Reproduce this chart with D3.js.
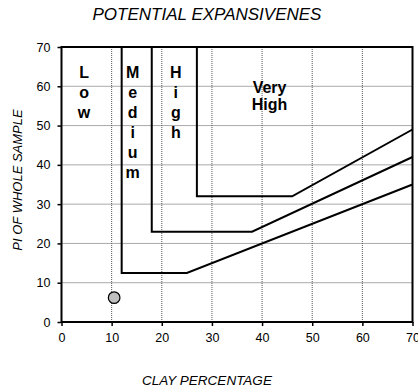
<!DOCTYPE html>
<html>
<head>
<meta charset="utf-8">
<script src="https://d3js.org/d3.v7.min.js"></script>
<style>
  html, body { margin: 0; background: #fff; }
  text { font-family: "Liberation Sans", Arial, sans-serif; }
</style>
</head>
<body>
<svg id="svg"></svg>
<script>
const xTicks = [0, 10, 20, 30, 40, 50, 60, 70];
const yTicks = [0, 10, 20, 30, 40, 50, 60, 70];

// boundary lines (clay %, PI)
const mediumLine = [[12, 70], [12, 12.5], [25, 12.5], [70, 35]];
const highLine = [[18, 70], [18, 23], [38, 23], [70, 42]];
const veryHighLine = [[27, 70], [27, 32], [46, 32], [70, 49]];
const boundaries = [mediumLine, highLine, veryHighLine];

const samplePoints = [[10.5, 6.2]];

// zone labels
const zoneLabels = [
  {x: 4.5, y: 62.2, text: "Low", stacked: true},
  {x: 14.2, y: 62.2, text: "Medium", stacked: true},
  {x: 22.8, y: 62.2, text: "High", stacked: true},
  {x: 41.5, y: 58.2, text: "Very", stacked: false},
  {x: 41.5, y: 53.9, text: "High", stacked: false}
];

const W = 418, H = 392;
const m = {top: 47, left: 61.5, right: 5.5, bottom: 70};
const w = W - m.left - m.right, h = H - m.top - m.bottom;

const svg = d3.select("#svg").attr("width", W).attr("height", H);

const x = d3.scaleLinear().domain([0, 70]).range([m.left, m.left + w]);
const y = d3.scaleLinear().domain([0, 70]).range([m.top + h, m.top]);

// grid
svg.append("g")
  .selectAll("line")
  .data(xTicks.slice(1, -1))
  .enter().append("line")
  .attr("x1", d => x(d)).attr("x2", d => x(d))
  .attr("y1", y(0)).attr("y2", y(70))
  .attr("stroke", "#555").attr("stroke-width", 1)
  .attr("stroke-dasharray", "1,1");

svg.append("g")
  .selectAll("line")
  .data(yTicks.slice(1, -1))
  .enter().append("line")
  .attr("x1", x(0)).attr("x2", x(70))
  .attr("y1", d => y(d)).attr("y2", d => y(d))
  .attr("stroke", "#555").attr("stroke-width", 1)
  .attr("stroke-dasharray", "1,1");

// axes
const xAxis = svg.append("g")
  .attr("transform", `translate(0,${y(0)})`)
  .call(d3.axisBottom(x).tickValues(xTicks).tickSize(4).tickPadding(7));
const yAxis = svg.append("g")
  .attr("transform", `translate(${x(0)},0)`)
  .call(d3.axisLeft(y).tickValues(yTicks).tickSize(4).tickPadding(7));
[xAxis, yAxis].forEach(a => {
  a.select(".domain").remove();
  a.selectAll("line").attr("stroke", "#000").attr("stroke-width", 1.5);
  a.selectAll("text").attr("font-size", 12.5).attr("fill", "#000")
    .attr("font-family", "Liberation Sans, Arial, sans-serif");
});

// frame
svg.append("rect")
  .attr("x", x(0)).attr("y", y(70))
  .attr("width", x(70) - x(0)).attr("height", y(0) - y(70))
  .attr("fill", "none").attr("stroke", "#000").attr("stroke-width", 2);

// boundary lines
const line = d3.line().x(d => x(d[0])).y(d => y(d[1]));
svg.append("g")
  .selectAll("path")
  .data(boundaries)
  .enter().append("path")
  .attr("d", line)
  .attr("fill", "none").attr("stroke", "#000").attr("stroke-width", 2);

// sample point
svg.append("g")
  .selectAll("circle")
  .data(samplePoints)
  .enter().append("circle")
  .attr("cx", d => x(d[0])).attr("cy", d => y(d[1]))
  .attr("r", 5.8)
  .attr("fill", "#bfbfbf").attr("stroke", "#000").attr("stroke-width", 1.2);

// zone labels
const lab = svg.append("g").attr("font-weight", "bold").attr("font-size", 16)
  .attr("text-anchor", "middle").attr("fill", "#000");
zoneLabels.forEach(z => {
  if (z.stacked) {
    z.text.split("").forEach((c, i) => {
      lab.append("text").attr("x", x(z.x)).attr("y", y(z.y) + i * 20).text(c);
    });
  } else {
    lab.append("text").attr("x", x(z.x)).attr("y", y(z.y)).text(z.text);
  }
});

// titles
svg.append("text")
  .attr("x", 207).attr("y", 20)
  .attr("text-anchor", "middle").attr("font-style", "italic").attr("font-size", 17)
  .text("POTENTIAL EXPANSIVENES");

svg.append("text")
  .attr("x", 207).attr("y", 385)
  .attr("text-anchor", "middle").attr("font-style", "italic").attr("font-size", 13.5)
  .text("CLAY PERCENTAGE");

svg.append("text")
  .attr("transform", "translate(22,180) rotate(-90)")
  .attr("text-anchor", "middle").attr("font-style", "italic").attr("font-size", 13)
  .text("PI OF WHOLE SAMPLE");
</script>
</body>
</html>
